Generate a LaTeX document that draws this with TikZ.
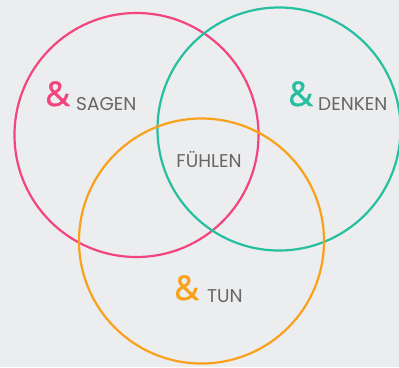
\documentclass[tikz,border=0pt]{standalone}
\usepackage{fontspec}
\setmainfont{Poppins}
\newfontfamily\ampfont[FakeBold=1.2]{Open Sans}
\definecolor{bg}{HTML}{ECEDEF}
\definecolor{pinkc}{HTML}{F2457F}
\definecolor{tealc}{HTML}{26BF9F}
\definecolor{orangec}{HTML}{F9A11B}
\definecolor{txt}{HTML}{666666}
\begin{document}
\begin{tikzpicture}[x=1pt,y=-1pt,
  ring/.style={line width=2.2pt},
  lbl/.style={text=txt,font=\fontsize{18.5}{19}\selectfont,anchor=base west,inner sep=0pt},
  amp/.style={font=\ampfont\fontsize{34}{34}\selectfont,anchor=base west,inner sep=0pt}]
\fill[bg] (0,0) rectangle (399,367);
\useasboundingbox (0,0) rectangle (399,367);
\draw[ring,pinkc] (136.5,135) circle (122);
\draw[ring,tealc] (279,129) circle (121.5);
\draw[ring,orangec] (201.5,241) circle (122.5);
\node[amp,text=pinkc] (a1) at (45,106) {\&};
\node[lbl] (sagen) at (76,110) {SAGEN};
\node[amp,text=tealc] (a2) at (288,106) {\&};
\node[lbl] (denken) at (318,110) {DENKEN};
\node[lbl,anchor=base] (fuehlen) at (209,167) {FÜHLEN};
\node[amp,text=orangec] (a3) at (174,300) {\&};
\node[lbl] (tun) at (207,302) {TUN};
\end{tikzpicture}
\end{document}
